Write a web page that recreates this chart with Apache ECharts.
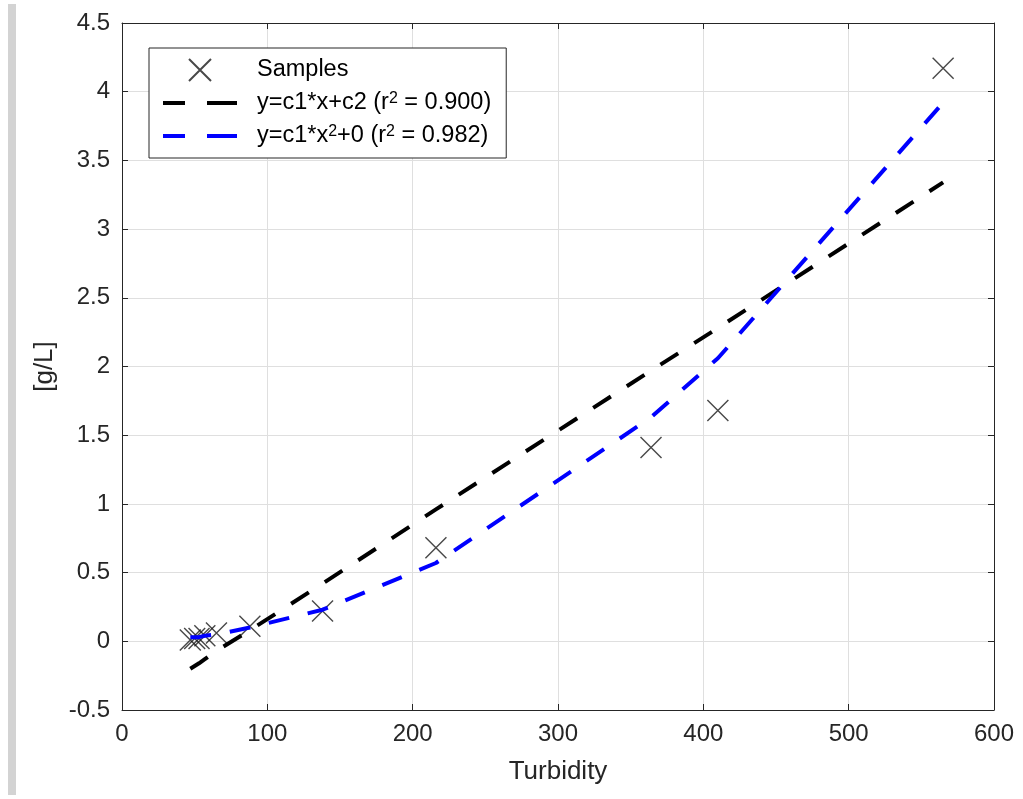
<!DOCTYPE html>
<html>
<head>
<meta charset="utf-8">
<script src="https://cdn.jsdelivr.net/npm/echarts@6/dist/echarts.min.js"></script>
<style>
  html, body { margin: 0; padding: 0; background: #fff; }
  #chart { width: 1023px; height: 799px; }
</style>
</head>
<body>
<div id="chart"></div>
<script>
// Turbidity readings and measured concentration [g/L]
const turbidity = [47, 50, 53, 57, 65, 88, 138, 216, 364, 410, 565];
const concentration = [0.01, 0.02, 0.02, 0.04, 0.06, 0.11, 0.22, 0.68, 1.41, 1.68, 4.17];

// Fitted values at each turbidity reading
const linearFit = [-0.20, -0.18, -0.16, -0.13, -0.07, 0.08, 0.42, 0.96, 1.97, 2.28, 3.34];
const quadraticFit = [0.03, 0.03, 0.03, 0.04, 0.05, 0.10, 0.23, 0.57, 1.63, 2.06, 3.92];

const seriesNames = ['Samples', 'linear', 'quadratic'];
const xTicks = { min: 0, max: 600, interval: 100 };
const yTicks = { min: -0.5, max: 4.5, interval: 0.5 };

const pairs = (xs, ys) => xs.map((x, i) => [x, ys[i]]);

const font = 'Liberation Sans, Arial, sans-serif';
const ink = '#262626';
const crossPath = 'path://M0,0L10,10M10,0L0,10';
// two dashes, used as the legend swatch of the fitted curves
const dashIcon = 'path://M0,0h22v4h-22zM44,0h30v4h-30z';

const chart = echarts.init(document.getElementById('chart'), null, { renderer: 'canvas' });

const baseX = {
  type: 'value', min: xTicks.min, max: xTicks.max, interval: xTicks.interval,
  axisLine: { show: true, onZero: false, lineStyle: { color: ink, width: 1 } },
  axisTick: { show: true, inside: true, length: 6, lineStyle: { color: ink } }
};
const baseY = {
  type: 'value', min: yTicks.min, max: yTicks.max, interval: yTicks.interval,
  axisLine: { show: true, onZero: false, lineStyle: { color: ink, width: 1 } },
  axisTick: { show: true, inside: true, length: 6, lineStyle: { color: ink } }
};

chart.setOption({
  animation: false,
  backgroundColor: '#ffffff',
  graphic: [{
    type: 'rect', left: 8, top: 4, z: -1,
    shape: { width: 8, height: 791 },
    style: { fill: '#d3d3d3' }
  }],
  grid: { left: 122, right: 29, top: 23, bottom: 89, containLabel: false },
  xAxis: [
    Object.assign({}, baseX, {
      position: 'bottom',
      name: 'Turbidity', nameLocation: 'middle', nameGap: 49,
      nameTextStyle: { fontFamily: font, fontSize: 26, color: ink },
      axisLabel: { fontFamily: font, fontSize: 24, color: ink, margin: 12 },
      splitLine: { show: true, lineStyle: { color: '#dfdfdf', width: 1 } }
    }),
    Object.assign({}, baseX, {
      position: 'top',
      axisLabel: { show: false }, splitLine: { show: false }
    })
  ],
  yAxis: [
    Object.assign({}, baseY, {
      position: 'left',
      name: '[g/L]', nameLocation: 'middle', nameGap: 64, nameRotate: 90,
      nameTextStyle: { fontFamily: font, fontSize: 26, color: ink },
      axisLabel: { fontFamily: font, fontSize: 24, color: ink, margin: 12 },
      splitLine: { show: true, lineStyle: { color: '#dfdfdf', width: 1 } }
    }),
    Object.assign({}, baseY, {
      position: 'right',
      axisLabel: { show: false }, splitLine: { show: false }
    })
  ],
  legend: {
    orient: 'vertical', left: 149, top: 48,
    backgroundColor: '#ffffff',
    borderColor: ink, borderWidth: 1,
    padding: [10, 15, 10, 14],
    itemWidth: 74, itemHeight: 22, itemGap: 9,
    data: [
      seriesNames[0],
      { name: seriesNames[1], icon: dashIcon },
      { name: seriesNames[2], icon: dashIcon }
    ],
    formatter: function (name) {
      if (name === 'linear') return 'y=c1*x+c2 (r{sup|2} = 0.900)';
      if (name === 'quadratic') return 'y=c1*x{sup|2}+0 (r{sup|2} = 0.982)';
      return name;
    },
    textStyle: {
      fontFamily: font, fontSize: 23.5, lineHeight: 24, color: '#000', padding: [0, 0, 0, 15],
      rich: {
        sup: { fontFamily: font, fontSize: 16, lineHeight: 12, verticalAlign: 'top', color: '#000' }
      }
    }
  },
  series: [
    {
      name: seriesNames[0], type: 'scatter', z: 3,
      data: pairs(turbidity, concentration),
      symbol: crossPath, symbolSize: 21,
      itemStyle: { color: 'rgba(0,0,0,0)', borderColor: '#1a1a1a', borderWidth: 1.4 }
    },
    {
      name: seriesNames[1], type: 'line', z: 4,
      data: pairs(turbidity, linearFit),
      symbol: 'none',
      lineStyle: { color: '#000000', width: 4, type: [21, 19] },
      itemStyle: { color: '#000000' }
    },
    {
      name: seriesNames[2], type: 'line', z: 5,
      data: pairs(turbidity, quadraticFit),
      symbol: 'none',
      lineStyle: { color: '#0000ff', width: 4, type: [21, 19] },
      itemStyle: { color: '#0000ff' }
    }
  ]
});
</script>
</body>
</html>
